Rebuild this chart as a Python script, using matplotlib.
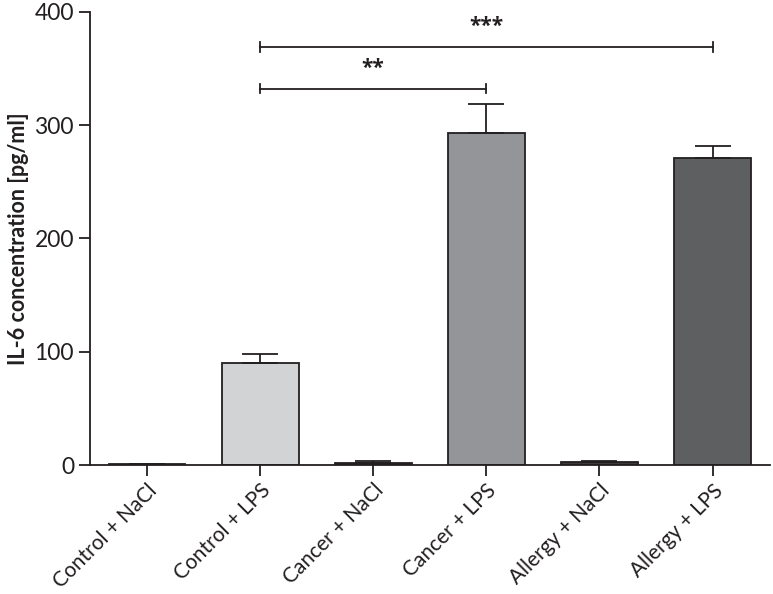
import matplotlib.pyplot as plt
import numpy as np

plt.rcParams['font.family'] = ['Lato', 'DejaVu Sans']

groups = ["Control + NaCl", "Control + LPS", "Cancer + NaCl",
          "Cancer + LPS", "Allergy + NaCl", "Allergy + LPS"]
means = [0.8, 90, 2, 293, 2.5, 271]
errs = [0, 8, 2, 26, 1.2, 11]
colors = ["#231f20", "#d1d3d4", "#3a3a3c", "#939598", "#3a3a3c", "#5e5f61"]

# significance brackets: (from group, to group, height, label)
brackets = [(1, 3, 332, "**"), (1, 5, 369, "***")]

ink = "#231f20"

fig = plt.figure(figsize=(7.73, 5.94), dpi=100)
ax = fig.add_axes([0.1164, 0.217, 0.88, 0.763])

x = np.arange(len(groups))
lower = np.zeros(len(errs))
ax.bar(x, means, width=0.68, color=colors, edgecolor=ink, linewidth=1.3, zorder=2)
ax.errorbar(x, means, yerr=[lower, errs], fmt="none", ecolor=ink,
            elinewidth=1.3, capsize=13, capthick=1.3, zorder=3)

for a, b, h, lab in brackets:
    ax.plot([a, b], [h, h], color=ink, lw=1.3, clip_on=False)
    ax.plot([a, a], [h - 4, h + 4], color=ink, lw=1.3, clip_on=False)
    ax.plot([b, b], [h - 4, h + 4], color=ink, lw=1.3, clip_on=False)
    ax.text((a + b) / 2, h + 9, lab, ha="center", va="bottom",
            fontsize=15, fontweight="bold", color=ink, family="Open Sans")

ax.set_xlim(-0.504, 5.51)
ax.set_ylim(0, 400)
ax.set_yticks([0, 100, 200, 300, 400])
ax.set_xticks(x)
ax.set_xticklabels(groups, rotation=45, ha="right", rotation_mode="anchor",
                   fontsize=15, color=ink)
ax.tick_params(axis="y", labelsize=16.5, labelcolor=ink, length=8, width=1.3, color=ink)
ax.tick_params(axis="x", length=8, width=1.3, color=ink, pad=3)
ax.set_ylabel("IL-6 concentration [pg/ml]", fontsize=15.5, fontweight="bold", color=ink)

ax.spines["top"].set_visible(False)
ax.spines["right"].set_visible(False)
ax.spines["left"].set_color(ink)
ax.spines["bottom"].set_color(ink)
ax.spines["left"].set_linewidth(1.3)
ax.spines["bottom"].set_linewidth(1.3)

plt.savefig("out.png", dpi=100)
